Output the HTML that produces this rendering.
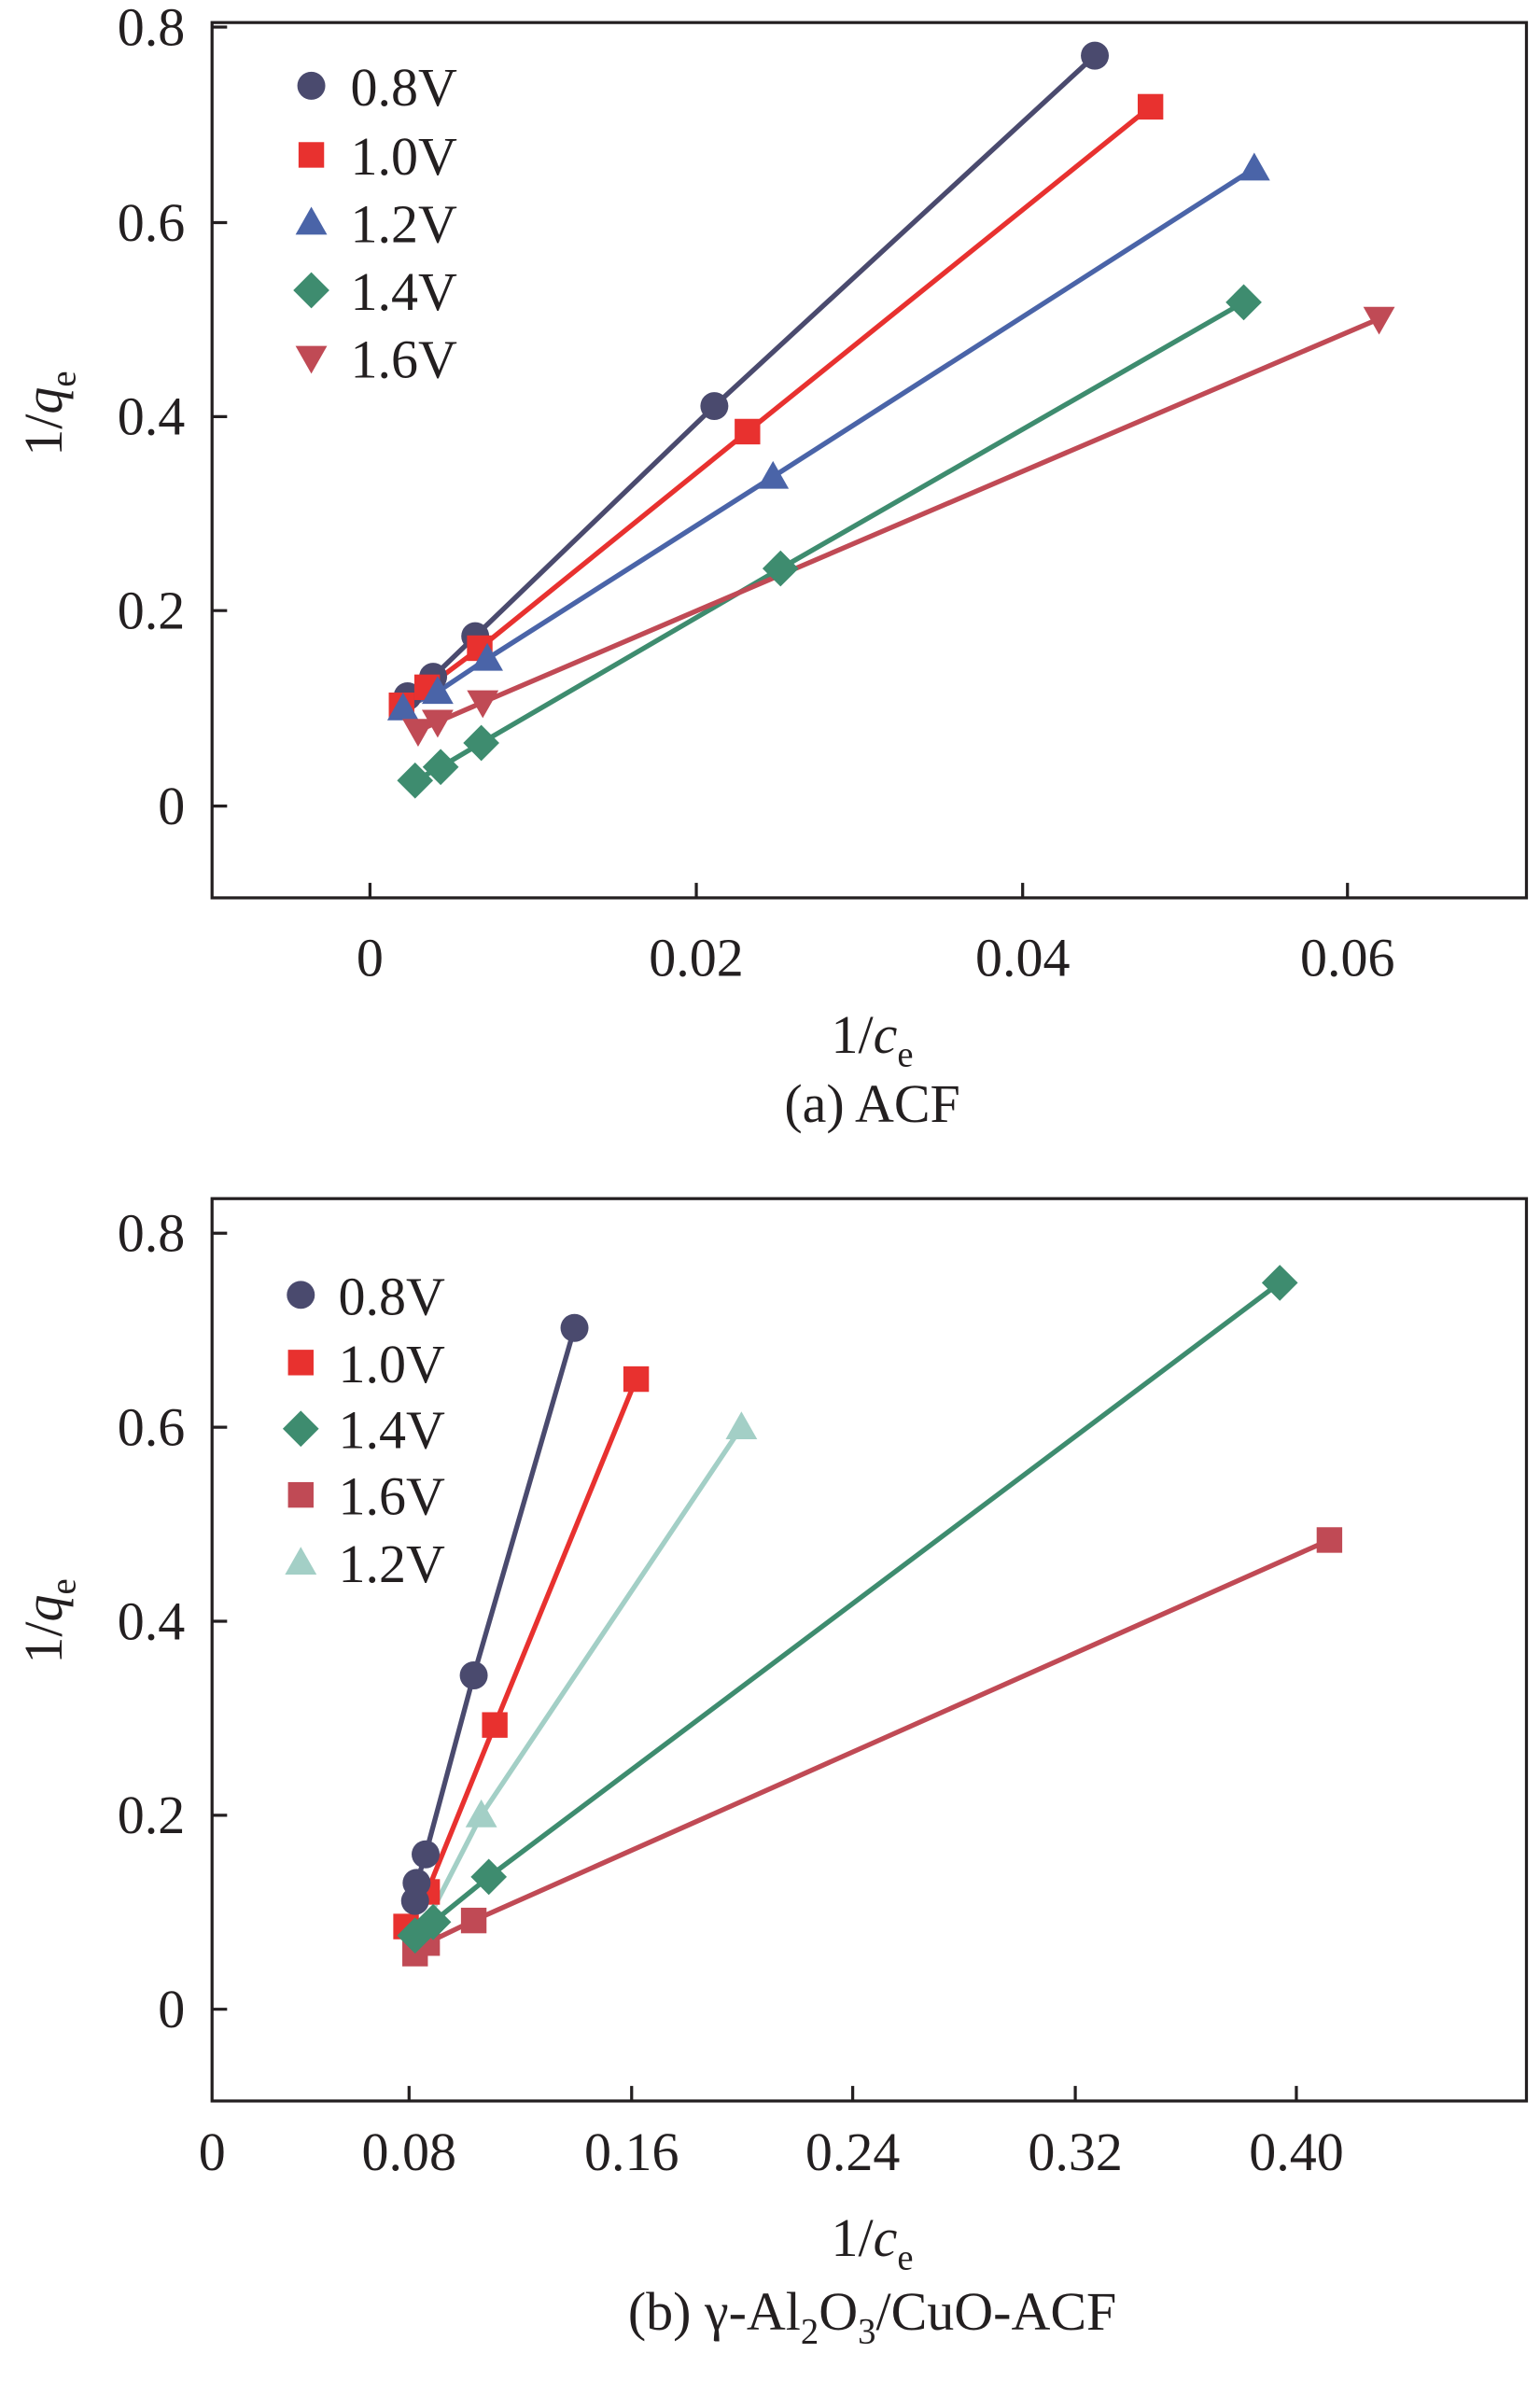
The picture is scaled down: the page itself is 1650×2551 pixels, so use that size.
<!DOCTYPE html>
<html><head><meta charset="utf-8"><style>html,body{margin:0;padding:0;background:#fff}svg{display:block}text{font-family:"Liberation Serif","Times New Roman",serif;fill:#231f20}</style></head><body>
<svg width="1650" height="2551" viewBox="0 0 1024 1583.2" xmlns="http://www.w3.org/2000/svg">
<defs>
<g id="c"><circle r="9.3"/></g>
<g id="s"><rect x="-8.5" y="-8.5" width="17" height="17"/></g>
<g id="t"><polygon points="0,-10.5 10.5,8 -10.5,8"/></g>
<g id="v"><polygon points="0,10.5 10.5,-8 -10.5,-8"/></g>
<g id="d"><polygon points="0,-12 12,0 0,12 -12,0"/></g>
</defs>
<g stroke="#231f20" stroke-width="2" fill="none">
<rect x="141" y="15" width="874" height="582"/>
<path d="M141 18h10M141 148h10M141 277h10M141 406h10M141 536h10M246 597v-10M463 597v-10M680 597v-10M896 597v-10"/>
<rect x="141" y="797" width="874" height="600"/>
<path d="M141 820h10M141 949h10M141 1078h10M141 1207h10M141 1336h10M272 1397v-10M420 1397v-10M567 1397v-10M715 1397v-10M862 1397v-10"/>
</g>
<g font-size="36" text-anchor="end">
<text x="123" y="30">0.8</text><text x="123" y="160">0.6</text><text x="123" y="289">0.4</text><text x="123" y="418">0.2</text><text x="123" y="548">0</text>
<text x="123" y="832">0.8</text><text x="123" y="961">0.6</text><text x="123" y="1090">0.4</text><text x="123" y="1219">0.2</text><text x="123" y="1348">0</text>
</g>
<g font-size="36" text-anchor="middle">
<text x="246" y="649">0</text><text x="463" y="649">0.02</text><text x="680" y="649">0.04</text><text x="896" y="649">0.06</text>
<text x="141" y="1443">0</text><text x="272" y="1443">0.08</text><text x="420" y="1443">0.16</text><text x="567" y="1443">0.24</text><text x="715" y="1443">0.32</text><text x="862" y="1443">0.40</text>
<text x="580" y="700">1/<tspan font-style="italic">c</tspan><tspan font-size="24" dy="9">e</tspan></text>
<text x="580" y="746">(a) ACF</text>
<text x="580" y="1500">1/<tspan font-style="italic">c</tspan><tspan font-size="24" dy="9">e</tspan></text>
<text x="580" y="1549">(b) γ-Al<tspan font-size="24" dy="9">2</tspan><tspan dy="-9">O</tspan><tspan font-size="24" dy="9">3</tspan><tspan dy="-9">/CuO-ACF</tspan></text>
<text transform="translate(41,275) rotate(-90)">1/<tspan font-style="italic">q</tspan><tspan font-size="24" dy="9">e</tspan></text>
<text transform="translate(41,1078) rotate(-90)">1/<tspan font-style="italic">q</tspan><tspan font-size="24" dy="9">e</tspan></text>
</g>
<g font-size="36">
<text x="233" y="70">0.8V</text><text x="233" y="116">1.0V</text><text x="233" y="161">1.2V</text><text x="233" y="206">1.4V</text><text x="233" y="251">1.6V</text>
<text x="225" y="874">0.8V</text><text x="225" y="919">1.0V</text><text x="225" y="963">1.4V</text><text x="225" y="1007">1.6V</text><text x="225" y="1052">1.2V</text>
</g>
<use href="#c" x="207" y="57" fill="#4a4a6e"/><use href="#s" x="207" y="103" fill="#e8312f"/><use href="#t" x="207" y="148" fill="#4a64a8"/><use href="#d" x="207" y="193" fill="#3e8c6f"/><use href="#v" x="207" y="238" fill="#c04a55"/>
<use href="#c" x="200" y="861" fill="#4a4a6e"/><use href="#s" x="200" y="906" fill="#e8312f"/><use href="#d" x="200" y="950" fill="#3e8c6f"/><use href="#s" x="200" y="994" fill="#c04a55"/><use href="#t" x="200" y="1039" fill="#a3cfc6"/>
<g fill="none" stroke-width="3.3">
<polyline stroke="#4a4a6e" points="271,463 288,450 316,423 475,270 728,37"/>
<polyline stroke="#e8312f" points="267,469 284,457 319,431 497,287 765,71"/>
<polyline stroke="#4a64a8" points="268,471 291,460 324,438 514,317 834,112"/>
<polyline stroke="#3e8c6f" points="276,519 293,510 320,494 519,378 827,201"/>
<polyline stroke="#c04a55" points="278,486 291,480 321,467 917,212"/>
</g>
<g fill="#4a4a6e"><use href="#c" x="271" y="463"/><use href="#c" x="288" y="450"/><use href="#c" x="316" y="423"/><use href="#c" x="475" y="270"/><use href="#c" x="728" y="37"/></g>
<g fill="#e8312f"><use href="#s" x="267" y="469"/><use href="#s" x="284" y="457"/><use href="#s" x="319" y="431"/><use href="#s" x="497" y="287"/><use href="#s" x="765" y="71"/></g>
<g fill="#4a64a8"><use href="#t" x="268" y="471"/><use href="#t" x="291" y="460"/><use href="#t" x="324" y="438"/><use href="#t" x="514" y="317"/><use href="#t" x="834" y="112"/></g>
<g fill="#c04a55"><use href="#v" x="278" y="486"/><use href="#v" x="291" y="480"/><use href="#v" x="321" y="467"/><use href="#v" x="917" y="212"/></g>
<g fill="#3e8c6f"><use href="#d" x="276" y="519"/><use href="#d" x="293" y="510"/><use href="#d" x="320" y="494"/><use href="#d" x="519" y="378"/><use href="#d" x="827" y="201"/></g>
<g fill="none" stroke-width="3.3">
<polyline stroke="#a3cfc6" points="279,1287 320,1207 493,949"/>
<polyline stroke="#c04a55" points="276,1299 284,1292 315,1277 884,1024"/>
<polyline stroke="#3e8c6f" points="276,1287 288,1278 325,1248 851,853"/>
<polyline stroke="#e8312f" points="270,1281 284,1258 329,1147 423,917"/>
<polyline stroke="#4a4a6e" points="276,1264 277,1252 283,1233 315,1114 382,883"/>
</g>
<g fill="#a3cfc6"><use href="#t" x="320" y="1207"/><use href="#t" x="493" y="949"/></g>
<g fill="#c04a55"><use href="#s" x="276" y="1299"/><use href="#s" x="284" y="1292"/><use href="#s" x="315" y="1277"/><use href="#s" x="884" y="1024"/></g>
<g fill="#e8312f"><use href="#s" x="270" y="1281"/><use href="#s" x="284" y="1258"/><use href="#s" x="329" y="1147"/><use href="#s" x="423" y="917"/></g>
<g fill="#4a4a6e"><use href="#c" x="276" y="1264"/><use href="#c" x="277" y="1252"/><use href="#c" x="283" y="1233"/><use href="#c" x="315" y="1114"/><use href="#c" x="382" y="883"/></g>
<g fill="#3e8c6f"><use href="#d" x="276" y="1287"/><use href="#d" x="288" y="1278"/><use href="#d" x="325" y="1248"/><use href="#d" x="851" y="853"/></g>
</svg>
</body></html>
